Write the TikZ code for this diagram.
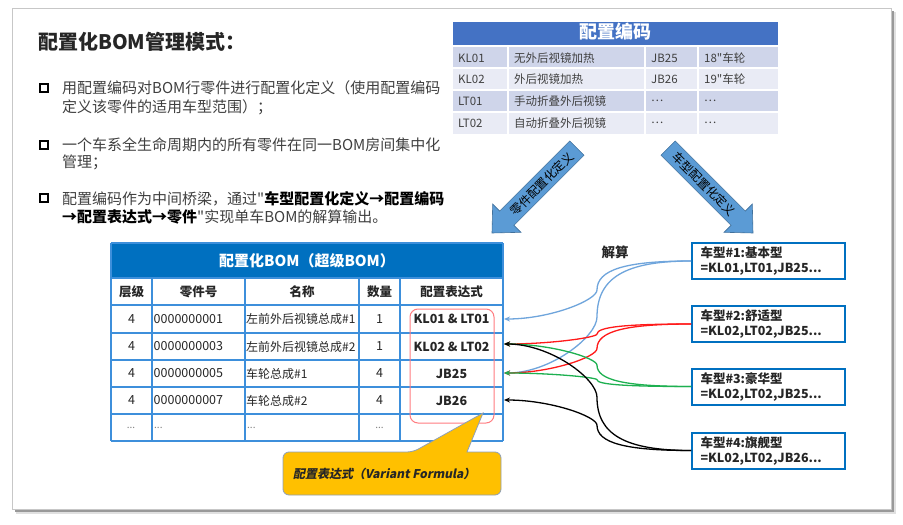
\documentclass[tikz,border=0pt]{standalone}
\usepackage{fontspec}
\setmainfont{Noto Sans CJK SC}[Ligatures=TeXOff]
\usetikzlibrary{calc,arrows.meta}
\definecolor{hdrA}{HTML}{4472C4}
\definecolor{rowA}{HTML}{CFD5EA}
\definecolor{rowB}{HTML}{E9EBF5}
\definecolor{bomblue}{HTML}{0070C0}
\definecolor{gridblue}{HTML}{3D8FDB}
\definecolor{arrowfill}{HTML}{5B9BD5}
\definecolor{arrowline}{HTML}{41719C}
\definecolor{txtgray}{HTML}{404040}
\definecolor{txtdark}{HTML}{262626}
\definecolor{cblue}{HTML}{6FA5DC}
\definecolor{cred}{HTML}{FF1A1A}
\definecolor{cgreen}{HTML}{1DB050}
\definecolor{calloutfill}{HTML}{FFC000}
\definecolor{calloutline}{HTML}{8EA0B8}
\definecolor{redbox}{HTML}{FF7C80}
\newcommand\sconn[3]{%
  \coordinate (cA) at (mx |- #1);
  \coordinate (cB) at (mx |- #2);
  \coordinate (cM) at ($(cA)!0.5!(cB)$);
  \draw[conn,#3] (#1) .. controls ($(#1)!0.7!(cA)$) and ($(cA)!0.3!(cM)$) .. (cM)
     .. controls ($(cM)!0.35!(cB)$) and ($(cB)!0.5!(#2)$) .. (#2);}
\begin{document}
\begin{tikzpicture}[x=1pt,y=-1pt,
  bullettext/.style={anchor=base west, inner sep=0, text=txtgray, font=\fontsize{15}{18}\selectfont},
  bulletsq/.style={draw=black, line width=1.6pt, minimum size=8pt, inner sep=0},
  codetext/.style={anchor=west, inner sep=0, text=txtgray, font=\fontsize{11.5}{14}\selectfont},
  bomtext/.style={inner sep=0, text=txtdark, font=\fontsize{12.5}{15}\selectfont},
  bomname/.style={inner sep=0, text=txtdark, font=\fontsize{12}{15}\selectfont},
  bomhead/.style={inner sep=0, text=txtdark, font=\fontsize{12.5}{15}\selectfont\bfseries},
  bomexpr/.style={inner sep=0, text=txtdark, font=\fontsize{12.5}{15}\selectfont\bfseries},
  dots/.style={inner sep=0, text=gray, font=\fontsize{10}{12}\selectfont},
  carbox/.style={draw=bomblue, line width=2pt, fill=white, minimum width=153pt, minimum height=36pt,
     text width=136pt, inner xsep=8.5pt, inner ysep=2pt, align=left,
     font=\fontsize{12.5}{15}\selectfont\bfseries, text=txtdark},
  bigarrow/.style={fill=arrowfill, draw=arrowline, line width=0.6pt},
  conn/.style={line width=1.3pt, -{Stealth[length=6pt,width=5pt]}},
  gridline/.style={draw=gridblue, line width=1.5pt}
]
\useasboundingbox (0,0) rectangle (903,525);
% slide frame with shadow
\fill[black!12] (16,12) rectangle (896,514);
\fill[black!40] (15,11) rectangle (894,512);
\filldraw[fill=white, draw=black!22, line width=0.8pt] (12,8) rectangle (891,509);

% title and bullets
\node[anchor=west, inner sep=0, text=txtdark, font=\fontsize{20}{24}\selectfont\bfseries] (title) at (38,42) {配置化BOM管理模式：};
\node[bulletsq] (q1) at (44,88) {};
\node[bulletsq] (q2) at (44,145) {};
\node[bulletsq] (q3) at (44,198) {};
\node[bullettext] (l1a) at (62,93.5) {用配置编码对BOM行零件进行配置化定义（使用配置编码};
\node[bullettext] (l1b) at (62,112.5) {定义该零件的适用车型范围）；};
\node[bullettext] (l2a) at (62,150.5) {一个车系全生命周期内的所有零件在同一BOM房间集中化};
\node[bullettext] (l2b) at (62,167.5) {管理；};
\node[bullettext] (l3a) at (62,204) {配置编码作为中间桥梁，通过"\textbf{\color{black}车型配置化定义→配置编码}};
\node[bullettext] (l3b) at (62,222) {\textbf{\color{black}→配置表达式→零件}"实现单车BOM的解算输出。};

% code table
\fill[hdrA] (453,22) rectangle (778,45);
\node[inner sep=0, text=white, font=\fontsize{18}{20}\selectfont\bfseries] (codehdr) at (615.5,32) {配置编码};
\fill[rowA] (453,47) rectangle (778,68);
\fill[rowB] (453,68) rectangle (778,90);
\fill[rowA] (453,90) rectangle (778,112);
\fill[rowB] (453,112) rectangle (778,134);
\foreach \yy in {68,90,112} \draw[white, line width=1.5pt] (453,\yy) -- (778,\yy);
\foreach \xx in {508,645,698} \draw[white, line width=1.5pt] (\xx,47) -- (\xx,134);
\node[codetext] (k1) at (458,58) {KL01};
\node[codetext] (k2) at (458,79) {KL02};
\node[codetext] (k3) at (458,101) {LT01};
\node[codetext] (k4) at (458,123) {LT02};
\node[codetext] (d1) at (514,58) {无外后视镜加热};
\node[codetext] (d2) at (514,79) {外后视镜加热};
\node[codetext] (d3) at (514,101) {手动折叠外后视镜};
\node[codetext] (d4) at (514,123) {自动折叠外后视镜};
\node[codetext] (j1) at (651,58) {JB25};
\node[codetext] (j2) at (651,79) {JB26};
\node[codetext] (j3) at (651,101) {…};
\node[codetext] (j4) at (651,123) {…};
\node[codetext] (w1) at (704,58) {18"车轮};
\node[codetext] (w2) at (704,79) {19"车轮};
\node[codetext] (w3) at (704,101) {…};
\node[codetext] (w4) at (704,123) {…};

% big arrows
\filldraw[bigarrow] (569.8,141) -- (584,155.2) -- (513.9,225.3) -- (520.9,232.3) -- (492,233) -- (492.7,204.1) -- (499.7,211.1) -- cycle;
\node[rotate=45, inner sep=0, font=\fontsize{12}{14}\selectfont] (a1t) at (542,184) {零件配置化定义};
\filldraw[bigarrow] (675.2,141) -- (661,155.2) -- (731.1,225.3) -- (724.1,232.3) -- (753,233) -- (752.3,204.1) -- (745.3,211.1) -- cycle;
\node[rotate=-45, inner sep=0, font=\fontsize{12}{14}\selectfont] (a2t) at (704,184) {车型配置化定义};

% BOM table
\fill[bomblue] (111,243) rectangle (503,278);
\node[inner sep=0, text=white, font=\fontsize{15}{18}\selectfont\bfseries] (bomhdr) at (307,261) {配置化BOM（超级BOM）};
\foreach \yy in {278,305,333,360,387,414,441} \draw[gridline] (111,\yy) -- (503,\yy);
\foreach \xx in {111,152,245,359,400,503} \draw[gridline] (\xx,278) -- (\xx,441);
\draw[gridline] (111,243) -- (111,278) (503,243) -- (503,278) (111,243) -- (503,243);
\node[bomhead] (h1) at (131.5,291.5) {层级};
\node[bomhead] (h2) at (198.5,291.5) {零件号};
\node[bomhead] (h3) at (302,291.5) {名称};
\node[bomhead] (h4) at (379.5,291.5) {数量};
\node[bomhead] (h5) at (451.5,291.5) {配置表达式};
\foreach \yy/\pn/\nm/\qt/\ex [count=\i] in {319/0000000001/左前外后视镜总成\#1/1/KL01 \& LT01, 346.5/0000000003/左前外后视镜总成\#2/1/KL02 \& LT02, 373.5/0000000005/车轮总成\#1/4/JB25, 400.5/0000000007/车轮总成\#2/4/JB26}{
  \node[bomtext] (lv\i) at (131.5,\yy) {4};
  \node[bomtext, anchor=west] (pn\i) at (153.5,\yy) {\pn};
  \node[bomname, anchor=west] (nm\i) at (246,\yy) {\nm};
  \node[bomtext] (qt\i) at (379.5,\yy) {\qt};
  \node[bomexpr] (ex\i) at (451.5,\yy) {\ex};
}
\node[dots] (z1) at (131,428) {...};
\node[dots, anchor=west] (z2) at (154,428) {...};
\node[dots, anchor=west] (z3) at (247,428) {...};
\node[dots] (z4) at (379.5,428) {...};
\draw[redbox, line width=1pt, rounded corners=8pt] (410,309) rectangle (494,423);

% callout
\draw[fill=calloutfill, draw=calloutline, line width=0.8pt, rounded corners=6pt]
  (283,473) |- (413,452) [sharp corners] -- (483,413) -- (467,452) [rounded corners=6pt] -| (501,495) -| cycle;
\node[anchor=west, inner sep=0, text=txtdark, font=\fontsize{12}{14}\selectfont\bfseries\addfontfeature{FakeSlant=0.2}] (ctext) at (293,474) {配置表达式（Variant Formula）};

% label
\node[inner sep=0, text=txtdark, font=\fontsize{13.5}{16}\selectfont\bfseries] (solve) at (615,252) {解算};

% car boxes
\node[carbox] (c1) at (768.5,261) {车型\#1:基本型\\=KL01,LT01,JB25...};
\node[carbox] (c2) at (768.5,324) {车型\#2:舒适型\\=KL02,LT02,JB25...};
\node[carbox] (c3) at (768.5,386.5) {车型\#3:豪华型\\=KL02,LT02,JB25...};
\node[carbox] (c4) at (768.5,450.5) {车型\#4:旗舰型\\=KL02,LT02,JB26...};

% connectors
\coordinate (mx) at (597,0);
\coordinate (e1) at (504,319);
\coordinate (e2) at (504,344);
\coordinate (e3) at (504,373);
\coordinate (e4) at (504,400);
\sconn{c1.west}{e1}{cblue}
\sconn{c1.west}{e3}{cblue}
\sconn{c2.west}{e2}{cred}
\sconn{c2.west}{e3}{cred}
\sconn{c3.west}{e2}{cgreen}
\sconn{c3.west}{e3}{cgreen}
\sconn{c4.west}{e2}{black}
\sconn{c4.west}{e4}{black}
\end{tikzpicture}
\end{document}
